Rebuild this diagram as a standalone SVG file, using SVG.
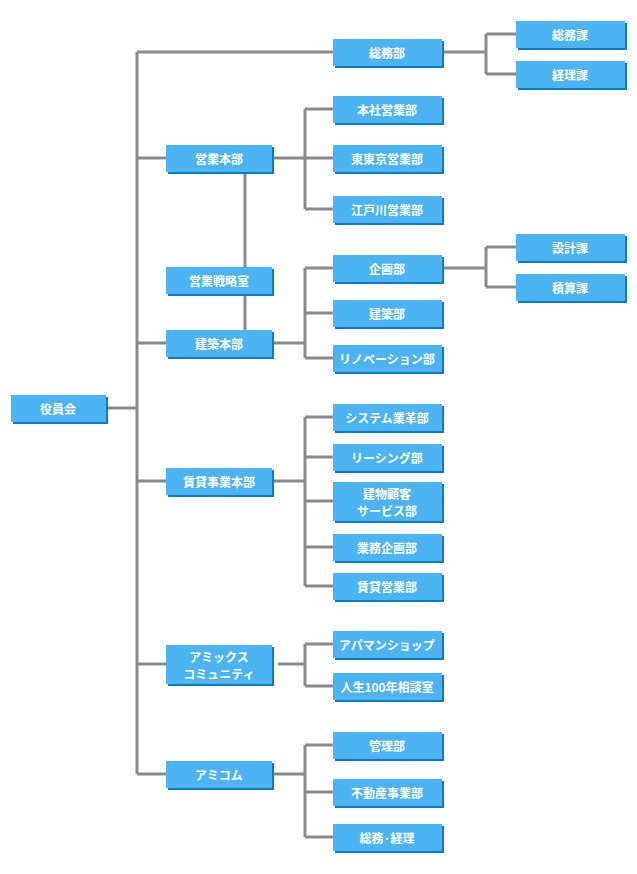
<svg xmlns="http://www.w3.org/2000/svg" width="637" height="874" viewBox="0 0 637 874">
<style>
.b{fill:#4cb4f2}.s{fill:#0b7bc6}
text{font-family:"Noto Sans CJK JP","Noto Sans",sans-serif;font-size:12px;font-weight:bold;fill:#fff;text-anchor:middle;dominant-baseline:central}
.c{fill:none;stroke:#8a8a8a;stroke-width:3}
</style>
<defs>
<g id="n2"><rect class="s" x="2" y="2" width="106" height="27"/><rect class="b" width="106" height="27"/></g>
<g id="n3"><rect class="s" x="2" y="2" width="109" height="27"/><rect class="b" width="109" height="27"/></g>
<g id="n3t"><rect class="s" x="2" y="2" width="109" height="39"/><rect class="b" width="109" height="39"/></g>
<g id="n2t"><rect class="s" x="2" y="2" width="106" height="39"/><rect class="b" width="106" height="39"/></g>
</defs>
<g id="connectors">
<path class="c" d="M106 408H137M137 52V774M137 52H333M137 158H166M137 343H166M137 481H166M137 664H166M137 774H166"/>
<path class="c" d="M245 172V330"/>
<path class="c" d="M442 52H486M486 34V74M486 34H516M486 74H516"/>
<path class="c" d="M272 158H305M305 109V209M305 109H333M305 158H333M305 209H333"/>
<path class="c" d="M272 343H305M305 268V358M305 268H333M305 313H333M305 358H333"/>
<path class="c" d="M442 268H486M486 247V287M486 247H516M486 287H516"/>
<path class="c" d="M272 481H305M305 417V586M305 417H333M305 457H333M305 501H333M305 547H333M305 586H333"/>
<path class="c" d="M278 664H305M305 644V686M305 644H333M305 686H333"/>
<path class="c" d="M272 774H305M305 745V837M305 745H333M305 792H333M305 837H333"/>
</g>
<g id="yakuinkai"><rect class="s" x="13" y="397" width="95" height="27"/><rect class="b" x="11" y="395" width="95" height="27"/><text x="58" y="408">役員会</text></g>
<g id="eigyohonbu"><use href="#n2" x="166" y="145"/><text x="219" y="158">営業本部</text></g>
<g id="senryaku"><use href="#n2" x="166" y="267"/><text x="219" y="280">営業戦略室</text></g>
<g id="kenchikuhonbu"><use href="#n2" x="166" y="330"/><text x="219" y="343">建築本部</text></g>
<g id="chintai"><use href="#n2" x="166" y="468"/><text x="219" y="481">賃貸事業本部</text></g>
<g id="amix"><use href="#n2t" x="166" y="645"/><text x="219" y="656">アミックス</text><text x="219" y="673">コミュニティ</text></g>
<g id="amicom"><use href="#n2" x="166" y="761"/><text x="219" y="774">アミコム</text></g>
<g id="somubu"><use href="#n3" x="333" y="39"/><text x="387" y="52">総務部</text></g>
<g id="honsha"><use href="#n3" x="333" y="96"/><text x="387" y="109">本社営業部</text></g>
<g id="higashi"><use href="#n3" x="333" y="145"/><text x="387" y="158">東東京営業部</text></g>
<g id="edogawa"><use href="#n3" x="333" y="196"/><text x="387" y="209">江戸川営業部</text></g>
<g id="kikaku"><use href="#n3" x="333" y="255"/><text x="387" y="268">企画部</text></g>
<g id="kenchiku"><use href="#n3" x="333" y="300"/><text x="387" y="313">建築部</text></g>
<g id="renov"><use href="#n3" x="333" y="345"/><text x="387" y="358">リノベーション部</text></g>
<g id="system"><use href="#n3" x="333" y="404"/><text x="387" y="417">システム業革部</text></g>
<g id="leasing"><use href="#n3" x="333" y="444"/><text x="387" y="457">リーシング部</text></g>
<g id="tatemono"><use href="#n3t" x="333" y="482"/><text x="387" y="493">建物顧客</text><text x="387" y="510">サービス部</text></g>
<g id="gyomukikaku"><use href="#n3" x="333" y="534"/><text x="387" y="547">業務企画部</text></g>
<g id="chintaieigyo"><use href="#n3" x="333" y="573"/><text x="387" y="586">賃貸営業部</text></g>
<g id="apaman"><use href="#n3" x="333" y="631"/><text x="387" y="644">アパマンショップ</text></g>
<g id="jinsei"><use href="#n3" x="333" y="673"/><text x="387" y="686">人生100年相談室</text></g>
<g id="kanri"><use href="#n3" x="333" y="732"/><text x="387" y="745">管理部</text></g>
<g id="fudosan"><use href="#n3" x="333" y="779"/><text x="387" y="792">不動産事業部</text></g>
<g id="somukeiri"><use href="#n3" x="333" y="824"/><text x="387" y="837">総務·経理</text></g>
<g id="somuka"><use href="#n3" x="516" y="21"/><text x="570" y="34">総務課</text></g>
<g id="keirika"><use href="#n3" x="516" y="61"/><text x="570" y="74">経理課</text></g>
<g id="sekkei"><use href="#n3" x="516" y="234"/><text x="570" y="247">設計課</text></g>
<g id="sekisan"><use href="#n3" x="516" y="274"/><text x="570" y="287">積算課</text></g>
</svg>
